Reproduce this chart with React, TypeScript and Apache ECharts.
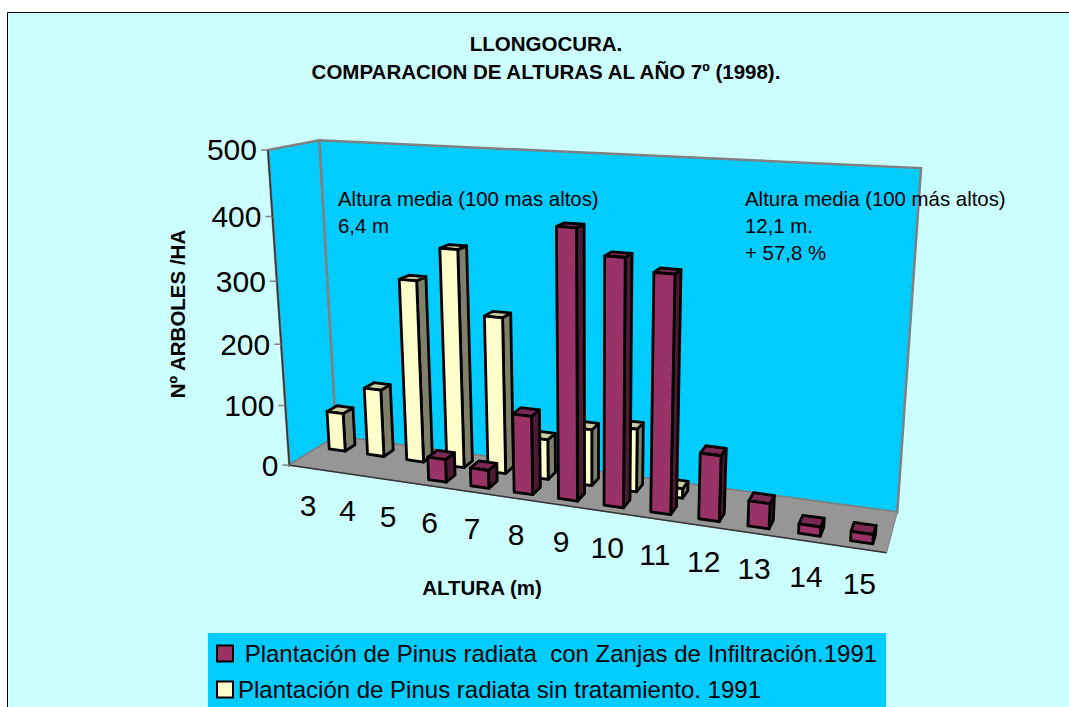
import React, { useEffect, useRef } from "react";
import * as echarts from "echarts";

const categories = ["3", "4", "5", "6", "7", "8", "9", "10", "11", "12", "13", "14", "15"];
const yTicks = [0, 100, 200, 300, 400, 500];
const maroonValues: (number | null)[] = [null, null, null, 37, 29, 124, 410, 373, 355, 100, 38, 14, 14];
const creamValues: (number | null)[] = [65, 113, 298, 352, 252, 65, 90, 100, 15, null, null, null, null];
const titleLines = "LLONGOCURA.\nCOMPARACION DE ALTURAS AL AÑO 7º (1998).";
const yTitle = "Nº ARBOLES /HA";
const xTitle = "ALTURA (m)";
const noteLeft = "Altura media (100 mas altos)\n6,4 m";
const noteRight = "Altura media (100 más altos)\n12,1 m.\n+ 57,8 %";
const maroonName = " Plantación de Pinus radiata  con Zanjas de Infiltración.1991";
const creamName = "Plantación de Pinus radiata sin tratamiento. 1991";

// projective camera of the 3-D box: box coordinates (u along x, v depth, z height) -> screen
const cameraRefs: [number, number, number, number, number][] = [
  [0, 0, 0, 289, 465],
  [0, 0, 1, 269, 150],
  [0, 0, 0.6, 276, 282],
  [0, 1, 0, 337, 436],
  [0, 1, 1, 319, 140],
  [1, 1, 0, 897, 513],
  [1, 1, 1, 921, 168],
  [1, 0, 0, 887, 552],
];

function solve(A: number[][], b: number[]) {
  const n = b.length;
  const M = A.map((r, i) => [...r, b[i]]);
  for (let c = 0; c < n; c++) {
    let p = c;
    for (let r = c + 1; r < n; r++) if (Math.abs(M[r][c]) > Math.abs(M[p][c])) p = r;
    [M[c], M[p]] = [M[p], M[c]];
    for (let r = 0; r < n; r++) {
      if (r === c) continue;
      const f = M[r][c] / M[c][c];
      for (let k = c; k <= n; k++) M[r][k] -= f * M[c][k];
    }
  }
  return M.map((r, i) => r[n] / r[i]);
}

function fitCamera() {
  const rows: number[][] = [];
  const rhs: number[] = [];
  for (const [X, Y, Z, x, y] of cameraRefs) {
    rows.push([X, Y, Z, 1, 0, 0, 0, 0, -x * X, -x * Y, -x * Z]);
    rhs.push(x);
    rows.push([0, 0, 0, 0, X, Y, Z, 1, -y * X, -y * Y, -y * Z]);
    rhs.push(y);
  }
  const N = 11;
  const AtA = Array.from({ length: N }, (_, i) =>
    Array.from({ length: N }, (_, j) => rows.reduce((s, r) => s + r[i] * r[j], 0))
  );
  const Atb = Array.from({ length: N }, (_, i) => rows.reduce((s, r, k) => s + r[i] * rhs[k], 0));
  return solve(AtA, Atb);
}

const P = fitCamera();
function project(u: number, v: number, z: number): [number, number] {
  const w = P[8] * u + P[9] * v + P[10] * z + 1;
  return [
    (P[0] * u + P[1] * v + P[2] * z + P[3]) / w,
    (P[4] * u + P[5] * v + P[6] * z + P[7]) / w,
  ];
}

const GRID = { left: 100, top: 100, width: 800, height: 400 };
const BAR_FRAC = 0.42;
const BAR_DEPTH = 0.22;

function barSeries(
  name: string,
  values: (number | null)[],
  vFront: number,
  fill: string,
  side: string,
  top: string
) {
  return {
    type: "custom",
    name,
    z: 5,
    silent: true,
    itemStyle: { color: fill },
    encode: { x: 0, y: 1 },
    data: values
      .map((v, i) => [i, v])
      .filter((d) => d[1] !== null),
    renderItem: (_: any, api: any) => {
      const c = api.value(0);
      const val = api.value(1);
      const base = api.coord([c, 0]);
      const head = api.coord([c, val]);
      const band = api.size([1, 0])[0];
      const uc = (base[0] - GRID.left) / GRID.width;
      const hw = ((band * BAR_FRAC) / GRID.width) / 2;
      const z = (GRID.top + GRID.height - head[1]) / GRID.height;
      const [u0, u1, v0, v1] = [uc - hw, uc + hw, vFront, vFront + BAR_DEPTH];
      const face = (pts: [number, number, number][], color: string) => ({
        type: "polygon",
        shape: { points: pts.map((p) => project(p[0], p[1], p[2])) },
        style: { fill: color, stroke: "#000", lineWidth: 2.8, lineJoin: "round" },
      });
      return {
        type: "group",
        children: [
          face([[u1, v0, 0], [u1, v1, 0], [u1, v1, z], [u1, v0, z]], side),
          face([[u0, v0, z], [u1, v0, z], [u1, v1, z], [u0, v1, z]], top),
          face([[u0, v0, 0], [u1, v0, 0], [u1, v0, z], [u0, v0, z]], fill),
        ],
      };
    },
  };
}

const frameSeries = {
  type: "custom",
  name: "frame",
  z: 2,
  silent: true,
  data: [[0, 0]],
  renderItem: () => {
    const poly = (pts: number[][], fill: string) => ({
      type: "polygon",
      shape: { points: pts.map((p) => project(p[0], p[1], p[2])) },
      style: { fill, stroke: "#808080", lineWidth: 2.5 },
    });
    const seg = (a: number[], b: number[], stroke: string, lineWidth = 1.5) => {
      const p = project(a[0], a[1], a[2]);
      const q = project(b[0], b[1], b[2]);
      return {
        type: "line",
        shape: { x1: p[0], y1: p[1], x2: q[0], y2: q[1] },
        style: { stroke, lineWidth },
      };
    };
    const ticks = yTicks.map((t) => {
      const p = project(0, 0, t / 500);
      return {
        type: "line",
        shape: { x1: p[0] - 7, y1: p[1], x2: p[0], y2: p[1] },
        style: { stroke: "#808080", lineWidth: 1.5 },
      };
    });
    return {
      type: "group",
      children: [
        poly([[0, 0, 0], [0, 1, 0], [0, 1, 1], [0, 0, 1]], "#00CCFF"),
        poly([[0, 1, 0], [1, 1, 0], [1, 1, 1], [0, 1, 1]], "#00CCFF"),
        { ...poly([[0, 0, 0], [1, 0, 0], [1, 1, 0], [0, 1, 0]], "#969696"), style: { fill: "#969696", stroke: "#808080", lineWidth: 1 } },
        seg([0, 0, 0], [0, 0, 1], "#333333"),
        seg([0, 0, 0], [1, 0, 0], "#333333"),
        ...ticks,
      ],
    };
  },
};

const labelFont = { fontFamily: "Liberation Sans", fontSize: 30, fill: "#000" };

const catLabelSeries = {
  type: "custom",
  name: "catLabels",
  z: 6,
  silent: true,
  encode: { x: 0, y: 1 },
  data: categories.map((_, i) => [i, 0]),
  renderItem: (params: any, api: any) => {
    const base = api.coord([api.value(0), 0]);
    const u = (base[0] - GRID.left) / GRID.width;
    const p = project(u, -0.42, 0);
    return {
      type: "text",
      style: {
        text: categories[params.dataIndex],
        x: p[0] + 21 - 16 * u,
        y: p[1] + 24 - 8 * u,
        align: "center",
        verticalAlign: "middle",
        ...labelFont,
      },
    };
  },
};

const yLabelSeries = {
  type: "custom",
  name: "yLabels",
  z: 6,
  silent: true,
  encode: { x: 0, y: 1 },
  data: yTicks.map((t) => [0, t]),
  renderItem: (params: any, api: any) => {
    const head = api.coord([0, api.value(1)]);
    const z = (GRID.top + GRID.height - head[1]) / GRID.height;
    const p = project(0, 0, z);
    return {
      type: "text",
      style: { text: String(yTicks[params.dataIndex]), x: p[0] - 11, y: p[1], align: "right", verticalAlign: "middle", ...labelFont },
    };
  },
};

const font = "Liberation Sans";

export default function App() {
  const ref = useRef<HTMLDivElement>(null);
  useEffect(() => {
    const chart = echarts.init(ref.current!, undefined, { renderer: "svg" });
    chart.setOption({
      animation: false,
      grid: { ...GRID, show: false },
      xAxis: { type: "category", data: categories, show: false },
      yAxis: { type: "value", min: 0, max: 500, interval: 100, show: false },
      title: {
        text: titleLines,
        left: 546,
        top: 29,
        textAlign: "center",
        textStyle: { fontFamily: font, fontSize: 20.5, fontWeight: "bold", color: "#000", lineHeight: 28 },
        padding: 0,
      },
      legend: {
        orient: "vertical",
        left: 216,
        top: 641,
        padding: 0,
        itemWidth: 16,
        itemHeight: 16,
        itemGap: 11,
        selectedMode: false,
        textStyle: { fontFamily: font, fontSize: 24, color: "#000", lineHeight: 25 },
        data: [
          { name: maroonName, icon: "rect", itemStyle: { color: "#993366", borderColor: "#000", borderWidth: 2 } },
          { name: creamName, icon: "rect", itemStyle: { color: "#FFFFCC", borderColor: "#000", borderWidth: 2 } },
        ],
      },
      graphic: [
        {
          type: "rect",
          z: -10,
          shape: { x: 7.5, y: 12.5, width: 1100, height: 720 },
          style: { fill: "#CCFFFF", stroke: "#000", lineWidth: 1 },
        },
        {
          type: "rect",
          z: -9,
          shape: { x: 208, y: 633, width: 678, height: 80 },
          style: { fill: "#00CCFF" },
        },
        {
          type: "text",
          z: 20,
          x: 338,
          y: 185,
          style: { text: noteLeft, fontFamily: font, fontSize: 20.4, lineHeight: 27, fill: "#000" },
        },
        {
          type: "text",
          z: 20,
          x: 745,
          y: 185,
          style: { text: noteRight, fontFamily: font, fontSize: 20.4, lineHeight: 27, fill: "#000" },
        },
        {
          type: "text",
          z: 20,
          x: 177,
          y: 314,
          rotation: Math.PI / 2,
          style: { text: yTitle, fontFamily: font, fontSize: 20.5, fontWeight: "bold", fill: "#000", align: "center", verticalAlign: "middle" },
        },
        {
          type: "text",
          z: 20,
          x: 482,
          y: 587,
          style: { text: xTitle, fontFamily: font, fontSize: 20.5, fontWeight: "bold", fill: "#000", align: "center", verticalAlign: "middle" },
        },
      ],
      series: [
        frameSeries,
        barSeries(creamName, creamValues, 0.6, "#FFFFCC", "#80806A", "#CCCCA3"),
        barSeries(maroonName, maroonValues, 0.15, "#993366", "#4D1A33", "#7A2952"),
        catLabelSeries,
        yLabelSeries,
      ],
    });
    return () => chart.dispose();
  }, []);
  return <div ref={ref} style={{ position: "fixed", left: 0, top: 0, width: 1069, height: 707, background: "#fff" }} />;
}
